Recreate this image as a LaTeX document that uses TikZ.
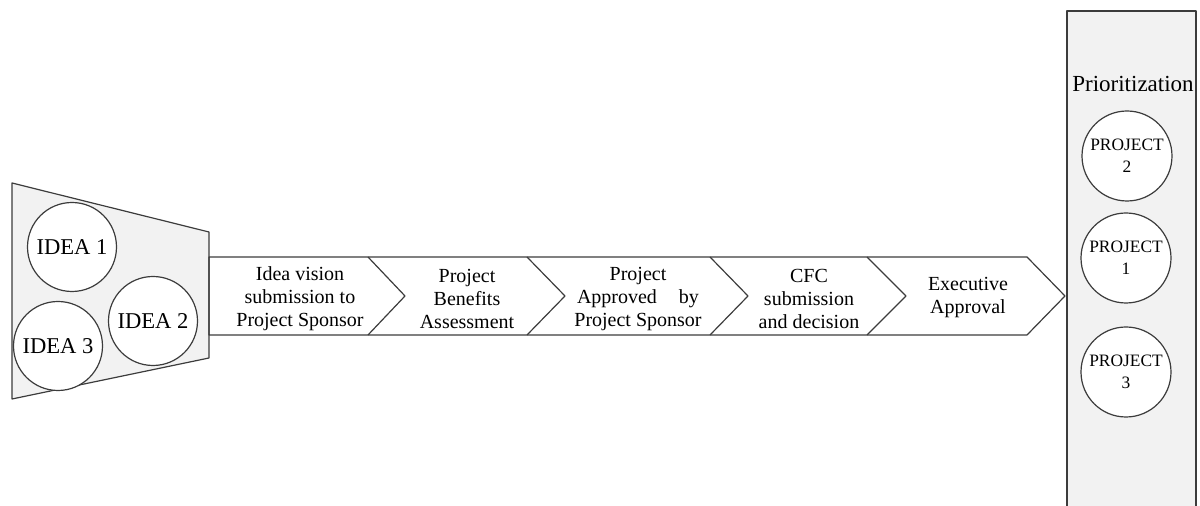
\documentclass[tikz,border=0pt]{standalone}
\usepackage{fontspec}
\setmainfont{Liberation Serif}
\usetikzlibrary{positioning}
\definecolor{edgegray}{HTML}{3C3C3C}
\definecolor{panelgray}{HTML}{F2F2F2}

\begin{document}
\begin{tikzpicture}[x=0.5pt, y=-0.5pt, line join=round, line width=0.6pt,
	idea/.style={circle, draw=edgegray, fill=white, minimum size=44.5pt, inner sep=0pt,
		font=\fontsize{11.3}{13}\selectfont},
	project/.style={circle, draw=edgegray, fill=white, minimum size=45pt, inner sep=0pt,
		align=center, font=\fontsize{8.7}{11}\selectfont},
	stagetext/.style={align=center, font=\fontsize{10}{11.5}\selectfont}]
\useasboundingbox (0,0) rectangle (1200,506);
%========================
% Left: idea funnel
%========================
\draw[edgegray, fill=panelgray] (12,183) -- (209,232) -- (209,358) -- (12,399) -- cycle;
\node[idea] (idea1) at (72,247) {IDEA 1};
\node[idea] (idea2) at (153,321) {IDEA 2};
\node[idea] (idea3) at (58,346) {IDEA 3};

%========================
% Middle: approval chevrons
%========================
% outline of the band
\draw[edgegray] (209,257) -- (1027,257) -- (1065,296) -- (1027,335) -- (209,335) -- cycle;
% separators
\draw[edgegray] (368,257) -- (405,296) -- (368,335);
\draw[edgegray] (527,257) -- (565,296) -- (527,335);
\draw[edgegray] (710,257) -- (748,296) -- (710,335);
\draw[edgegray] (867,257) -- (906,296) -- (867,335);

\node[stagetext] (stage1) at (300,299) {Idea vision\\submission to\\Project Sponsor};
\node[stagetext] (stage2) at (467,299) {Project\\Benefits\\Assessment};
\node[stagetext] (stage3) at (638,299) {Project\\Approved\hspace{1.1em}by\\Project Sponsor};
\node[stagetext] (stage4) at (809,299) {CFC\\submission\\and decision};
\node[stagetext] (stage5) at (968,298) {Executive\\Approval};

%========================
% Right: prioritization
%========================
\draw[edgegray, fill=panelgray] (1067,520) -- (1067,11) -- (1196,11) -- (1196,520);
\node[font=\fontsize{11.5}{13}\selectfont] (prio) at (1133,84) {Prioritization};
\node[project] (project2) at (1127,156) {PROJECT\\2};
\node[project] (project1) at (1126,258) {PROJECT\\1};
\node[project] (project3) at (1126,372) {PROJECT\\3};
\end{tikzpicture}
\end{document}
